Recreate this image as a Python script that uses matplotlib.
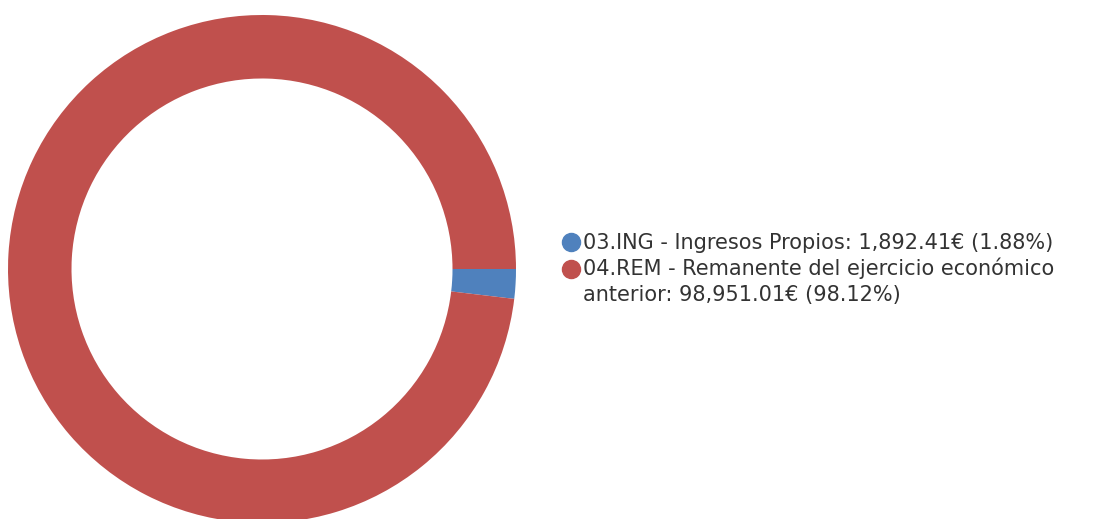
import matplotlib
matplotlib.use("Agg")
import matplotlib.pyplot as plt
from matplotlib.lines import Line2D
from matplotlib.markers import MarkerStyle
from matplotlib.transforms import Affine2D

# data
codes = ["03.ING", "04.REM"]
names = ["Ingresos Propios", "Remanente del ejercicio económico\nanterior"]
amounts = [1892.41, 98951.01]
colors = ["#4F81BD", "#C0504D"]

W, H = 1107, 519
fig = plt.figure(figsize=(W / 100, H / 100), dpi=100)

# donut centre (262, 269) px, radius 254 px
cx, cy, r = 262, 269, 254
ax = fig.add_axes([(cx - r) / W, (H - cy - r) / H, 2 * r / W, 2 * r / H])
ax.pie(amounts, colors=colors, startangle=0, counterclock=False, radius=1.0,
       wedgeprops=dict(width=0.25, linewidth=0))
ax.set_xlim(-1, 1)
ax.set_ylim(-1, 1)
ax.set_aspect("equal")
ax.axis("off")

total = sum(amounts)
labels = []
for c, n, a in zip(codes, names, amounts):
    labels.append(f"{c} - {n}: {a:,.2f}€ ({a / total * 100:.2f}%)")

# dot sits on the first line of a wrapped label
handles = []
for col, lab in zip(colors, labels):
    nlines = lab.count("\n") + 1
    mk = MarkerStyle("o", transform=Affine2D().translate(0, 0.72 * (nlines - 1)))
    handles.append(Line2D([], [], linestyle="none", marker=mk, markersize=13,
                          markerfacecolor=col, markeredgecolor=col))

leg = fig.legend(handles, labels, loc="upper left",
                 bbox_to_anchor=(566 / W, 1 - 233 / H),
                 bbox_transform=fig.transFigure, frameon=False,
                 prop={"family": "DejaVu Sans", "size": 15},
                 handlelength=0.5, handletextpad=0.3, labelspacing=0.2,
                 borderpad=0, borderaxespad=0)
for t in leg.get_texts():
    t.set_color("#333333")
    t.set_linespacing(1.4)

fig.savefig("out.png", dpi=100)
